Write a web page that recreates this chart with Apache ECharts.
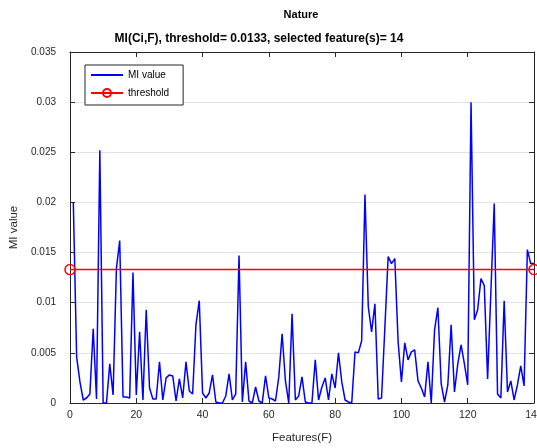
<!DOCTYPE html>
<html>
<head>
<meta charset="utf-8">
<script src="https://cdn.jsdelivr.net/npm/echarts@6/dist/echarts.min.js"></script>
<style>html,body{margin:0;padding:0;background:#fff}#c{width:537px;height:448px}</style>
</head>
<body>
<div id="c"></div>
<script>
var features = [1,2,3,4,5,6,7,8,9,10,11,12,13,14,15,16,17,18,19,20,21,22,23,24,25,26,27,28,29,30,31,32,33,34,35,36,37,38,39,40,41,42,43,44,45,46,47,48,49,50,51,52,53,54,55,56,57,58,59,60,61,62,63,64,65,66,67,68,69,70,71,72,73,74,75,76,77,78,79,80,81,82,83,84,85,86,87,88,89,90,91,92,93,94,95,96,97,98,99,100,101,102,103,104,105,106,107,108,109,110,111,112,113,114,115,116,117,118,119,120,121,122,123,124,125,126,127,128,129,130,131,132,133,134,135,136,137,138,139,140];
var miValues = [
0.0200,0.0046,0.0021,0.0003,0.0005,0.0009,0.0074,0.0004,0.0252,0.0000,
0.0000,0.0039,0.0008,0.0134,0.0162,0.0006,0.0006,0.0005,0.0130,0.0008,
0.0071,0.0003,0.0093,0.0015,0.0004,0.0004,0.0041,0.0003,0.0025,0.0028,
0.0027,0.0002,0.0024,0.0005,0.0041,0.0012,0.0009,0.0078,0.0102,0.0010,
0.0005,0.0010,0.0028,0.0001,0.0000,0.0000,0.0007,0.0029,0.0003,0.0009,
0.0147,0.0001,0.0041,0.0002,0.0000,0.0016,0.0002,0.0000,0.0027,0.0005,
0.0004,0.0002,0.0026,0.0069,0.0022,0.0000,0.0089,0.0003,0.0007,0.0026,
0.0001,0.0000,0.0000,0.0043,0.0003,0.0016,0.0025,0.0003,0.0029,0.0015,
0.0050,0.0021,0.0003,0.0001,0.0000,0.0051,0.0050,0.0062,0.0208,0.0096,
0.0071,0.0099,0.0004,0.0005,0.0075,0.0146,0.0139,0.0144,0.0061,0.0021,
0.0060,0.0043,0.0051,0.0053,0.0022,0.0015,0.0006,0.0041,0.0000,0.0073,
0.0095,0.0019,0.0001,0.0018,0.0078,0.0011,0.0039,0.0058,0.0039,0.0018,
0.0300,0.0083,0.0093,0.0124,0.0117,0.0024,0.0112,0.0199,0.0009,0.0005,
0.0102,0.0011,0.0022,0.0003,0.0018,0.0037,0.0017,0.0153,0.0139,0.0139];
var thresholdX = [0, 140];
var thresholdY = [0.0133, 0.0133];
var xTicks = [0, 20, 40, 60, 80, 100, 120, 140];
var yTicks = [0, 0.005, 0.01, 0.015, 0.02, 0.025, 0.03, 0.035];

var FONT = 'Liberation Sans, Arial, Helvetica, sans-serif';
var AX = '#262626';
var chart = echarts.init(document.getElementById('c'), null, {renderer: 'canvas'});

var miData = features.map(function (f, i) { return [f, miValues[i]]; });
var thrData = thresholdX.map(function (x, i) { return [x, thresholdY[i]]; });

function fmtY(v) {
  for (var i = 0; i < yTicks.length; i++) {
    if (Math.abs(v - yTicks[i]) < 1e-9) return String(yTicks[i]);
  }
  return '';
}

chart.setOption({
  animation: false,
  textStyle: {fontFamily: FONT},
  title: [
    {text: 'Nature', left: 296, top: 4, textAlign: 'center',
     textStyle: {fontSize: 11, fontWeight: 'bold', color: '#000', fontFamily: FONT}},
    {text: 'MI(Ci,F), threshold= 0.0133, selected feature(s)= 14', left: 254, top: 28, textAlign: 'center',
     textStyle: {fontSize: 12, fontWeight: 'bold', color: '#000', fontFamily: FONT}}
  ],
  legend: {
    orient: 'vertical', left: 85, top: 65,
    itemWidth: 32, itemHeight: 10, itemGap: 8,
    padding: [5, 14, 7, 5],
    borderColor: AX, borderWidth: 1, backgroundColor: '#fff',
    textStyle: {fontSize: 10, color: '#000', fontFamily: FONT},
    data: [{name: 'MI value', itemStyle: {opacity: 0}}, {name: 'threshold'}]
  },
  grid: {left: 70, top: 52, width: 464, height: 351, containLabel: false, outerBoundsMode: 'none'},
  xAxis: [
    {type: 'value', min: 0, max: 140, interval: 20, position: 'bottom',
     name: 'Features(F)', nameLocation: 'middle', nameGap: 29,
     nameTextStyle: {fontSize: 11.5, color: AX, fontFamily: FONT},
     axisLine: {show: true, lineStyle: {color: AX, width: 1}},
     axisTick: {show: true, inside: true, length: 5, lineStyle: {color: AX}},
     axisLabel: {fontSize: 10.5, color: AX, margin: 7, fontFamily: FONT},
     splitLine: {show: false}},
    {type: 'value', min: 0, max: 140, interval: 20, position: 'top',
     axisLine: {show: true, onZero: false, lineStyle: {color: AX, width: 1}},
     axisTick: {show: true, inside: true, length: 5, lineStyle: {color: AX}},
     axisLabel: {show: false}, splitLine: {show: false}}
  ],
  yAxis: [
    {type: 'value', min: 0, max: 0.035, interval: 0.005, position: 'left',
     name: 'MI value', nameLocation: 'middle', nameGap: 50,
     nameTextStyle: {fontSize: 11.5, color: AX, fontFamily: FONT},
     axisLine: {show: true, lineStyle: {color: AX, width: 1}},
     axisTick: {show: true, inside: true, length: 5, lineStyle: {color: AX}},
     axisLabel: {fontSize: 10, color: AX, margin: 14, formatter: fmtY, fontFamily: FONT},
     splitLine: {show: true, lineStyle: {color: '#e3e3e3', width: 1}}},
    {type: 'value', min: 0, max: 0.035, interval: 0.005, position: 'right',
     axisLine: {show: true, onZero: false, lineStyle: {color: AX, width: 1}},
     axisTick: {show: true, inside: true, length: 5, lineStyle: {color: AX}},
     axisLabel: {show: false}, splitLine: {show: false}}
  ],
  series: [
    {name: 'MI value', type: 'line', data: miData, symbol: 'none',
     lineStyle: {color: '#0000ff', width: 1.5}, itemStyle: {color: '#0000ff'}, z: 3},
    {name: 'threshold', type: 'line', data: thrData, symbol: 'circle', symbolSize: 10,
     clip: false,
     lineStyle: {color: '#ff0000', width: 1.5},
     itemStyle: {color: 'rgba(255,255,255,0)', borderColor: '#ff0000', borderWidth: 1.5}, z: 4}
  ]
});
</script>
</body>
</html>
